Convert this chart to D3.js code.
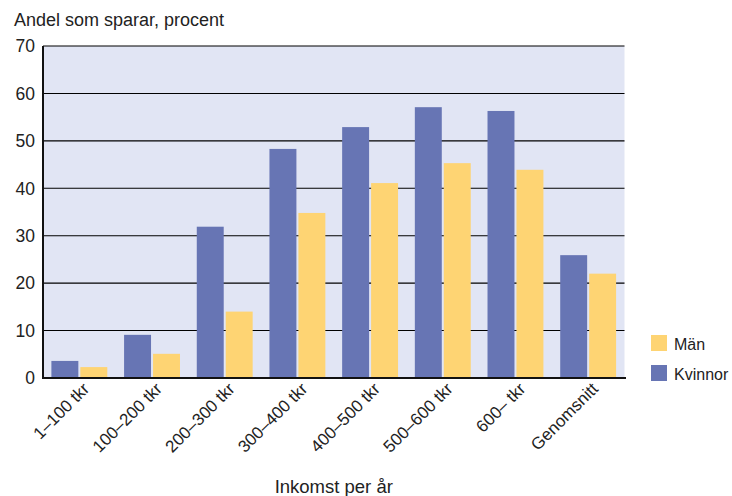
<!DOCTYPE html>
<html>
<head>
<meta charset="utf-8">
<script src="https://cdn.jsdelivr.net/npm/d3@7"></script>
<style>
  html, body { margin: 0; padding: 0; background: #ffffff; }
  svg { display: block; font-family: "Liberation Sans", Arial, sans-serif; }
</style>
</head>
<body>
<svg id="chart" width="732" height="496"></svg>
<script>
// Income brackets (tkr per year) and the share who save, in percent
const categories = ["1–100 tkr", "100–200 tkr", "200–300 tkr", "300–400 tkr",
                    "400–500 tkr", "500–600 tkr", "600– tkr", "Genomsnitt"];
const kvinnor = [3.6, 9.1, 31.9, 48.3, 52.9, 57.1, 56.3, 25.9];
const man     = [2.3, 5.1, 14.0, 34.8, 41.1, 45.3, 43.9, 22.0];
const seriesNames = ["Kvinnor", "Män"];
const yTicks = [0, 10, 20, 30, 40, 50, 60, 70];

const colors = { "Kvinnor": "#6775b4", "Män": "#fed473" };

const svg = d3.select("#chart");
const plot = { left: 43, right: 624.5, top: 46, bottom: 378 };

const x0 = d3.scaleBand().domain(categories).range([plot.left, plot.right]).padding(0);
const x1 = d3.scaleBand().domain(seriesNames).range([0, x0.bandwidth()])
  .paddingInner(0.069).paddingOuter(0.29);
const y = d3.scaleLinear().domain([0, 70]).range([plot.bottom, plot.top]);

// plot background
svg.append("rect")
  .attr("x", plot.left).attr("y", plot.top)
  .attr("width", plot.right - plot.left).attr("height", plot.bottom - plot.top)
  .attr("fill", "#e1e5f4");

// horizontal grid lines
svg.append("g")
  .selectAll("line")
  .data(yTicks.filter(d => d > 0))
  .join("line")
  .attr("x1", plot.left).attr("x2", plot.right)
  .attr("y1", d => y(d)).attr("y2", d => y(d))
  .attr("stroke", "#000").attr("stroke-width", 1.1);

// bars
const rows = categories.map((c, i) => ({ cat: c, values: [
  { key: "Kvinnor", value: kvinnor[i] }, { key: "Män", value: man[i] } ] }));

svg.append("g")
  .selectAll("g")
  .data(rows)
  .join("g")
  .attr("transform", d => `translate(${x0(d.cat)},0)`)
  .selectAll("rect")
  .data(d => d.values)
  .join("rect")
  .attr("x", d => x1(d.key))
  .attr("width", x1.bandwidth())
  .attr("y", d => y(d.value))
  .attr("height", d => y(0) - y(d.value))
  .attr("fill", d => colors[d.key]);

// axes lines
svg.append("line")
  .attr("x1", plot.left).attr("x2", plot.left)
  .attr("y1", plot.top).attr("y2", plot.bottom + 1)
  .attr("stroke", "#111").attr("stroke-width", 2);
svg.append("line")
  .attr("x1", plot.left - 1).attr("x2", plot.right + 1.5)
  .attr("y1", plot.bottom).attr("y2", plot.bottom)
  .attr("stroke", "#111").attr("stroke-width", 2);

// y tick labels
svg.append("g")
  .selectAll("text")
  .data(yTicks)
  .join("text")
  .attr("x", 35)
  .attr("y", d => y(d))
  .attr("dy", "0.36em")
  .attr("text-anchor", "end")
  .attr("font-size", 17.5)
  .attr("fill", "#222")
  .text(d => d);

// x tick labels, rotated
svg.append("g")
  .selectAll("text")
  .data(categories)
  .join("text")
  .attr("text-anchor", "end")
  .attr("font-size", 17)
  .attr("fill", "#222")
  .attr("transform", d => `translate(${x0(d) + x0.bandwidth() / 2 + 11},${plot.bottom + 12}) rotate(-45)`)
  .text(d => d);

// titles
svg.append("text")
  .attr("x", 14).attr("y", 26)
  .attr("font-size", 18)
  .attr("fill", "#222")
  .text("Andel som sparar, procent");

svg.append("text")
  .attr("x", (plot.left + plot.right) / 2).attr("y", 493)
  .attr("text-anchor", "middle")
  .attr("font-size", 18.5)
  .attr("fill", "#222")
  .text("Inkomst per år");

// legend
const legend = svg.append("g")
  .selectAll("g")
  .data(["Män", "Kvinnor"])
  .join("g")
  .attr("transform", (d, i) => `translate(651,${335 + i * 30})`);
legend.append("rect")
  .attr("width", 16).attr("height", 16)
  .attr("fill", d => colors[d]);
legend.append("text")
  .attr("x", 23).attr("y", 14.5)
  .attr("font-size", 16)
  .attr("fill", "#222")
  .text(d => d);
</script>
</body>
</html>
